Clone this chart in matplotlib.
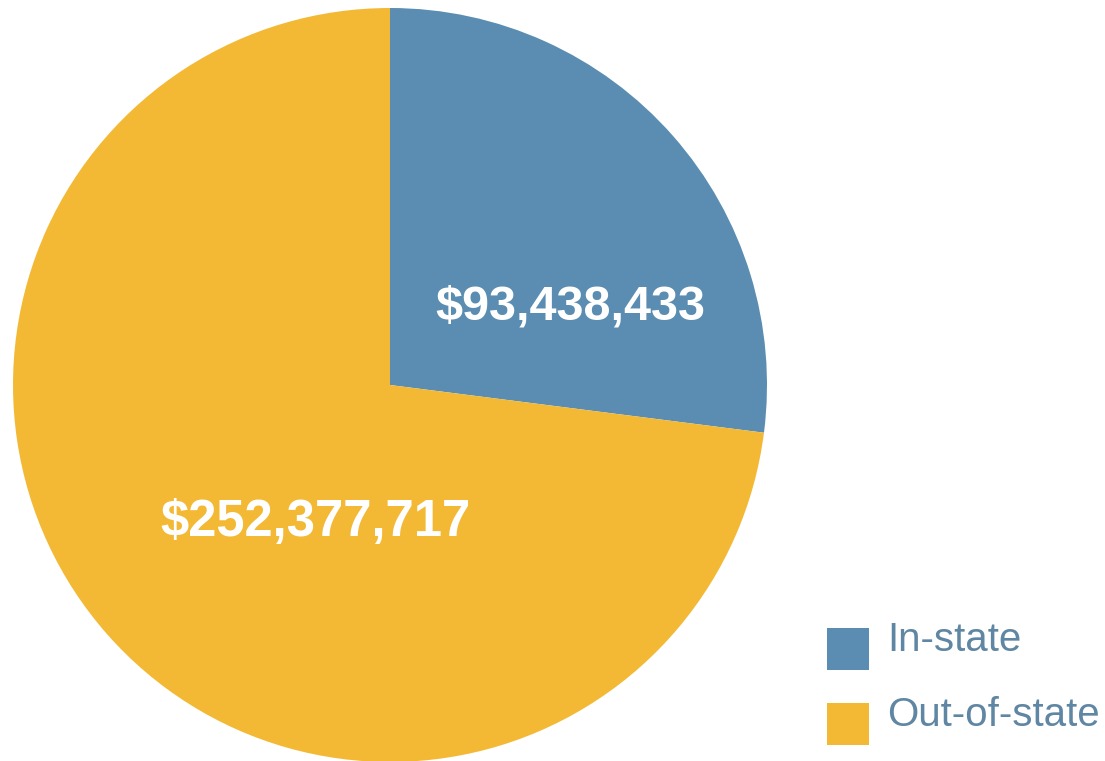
import matplotlib
matplotlib.use("Agg")
import matplotlib.pyplot as plt
from matplotlib.patches import Rectangle

# Tuition revenue by student residency
categories = ["In-state", "Out-of-state"]
revenue = [93438433, 252377717]
colors = ["#5a8db1", "#f3b935"]

W, H = 1105, 761
fig = plt.figure(figsize=(W / 100, H / 100), dpi=100)
ax = fig.add_axes([0, 0, 1, 1])


def py(y):
    # top-down pixel row -> axes y
    return H - y


ax.pie(
    revenue,
    colors=colors,
    startangle=90,
    counterclock=False,
    center=(390, py(385)),
    radius=377,
    wedgeprops={"linewidth": 0},
)
ax.set_xlim(0, W)
ax.set_ylim(0, H)
ax.set_aspect("equal")
ax.axis("off")

# value labels inside the slices
label_pos = [(570, 307, 35), (315, 522, 36.5)]
for v, (x, y, fs) in zip(revenue, label_pos):
    ax.text(x, py(y), f"${v:,.0f}", color="white", fontsize=fs,
            fontweight="bold", family="Liberation Sans",
            ha="center", va="center")

# legend
for i, (name, c) in enumerate(zip(categories, colors)):
    top = 628 + i * 75
    ax.add_patch(Rectangle((827, py(top + 42)), 42, 42, color=c, lw=0))
    ax.text(887, py(top + 12), name, color="#5f86a2", fontsize=29,
            family="Liberation Sans", ha="left", va="center")

fig.savefig("out.png", dpi=100, facecolor="white")
